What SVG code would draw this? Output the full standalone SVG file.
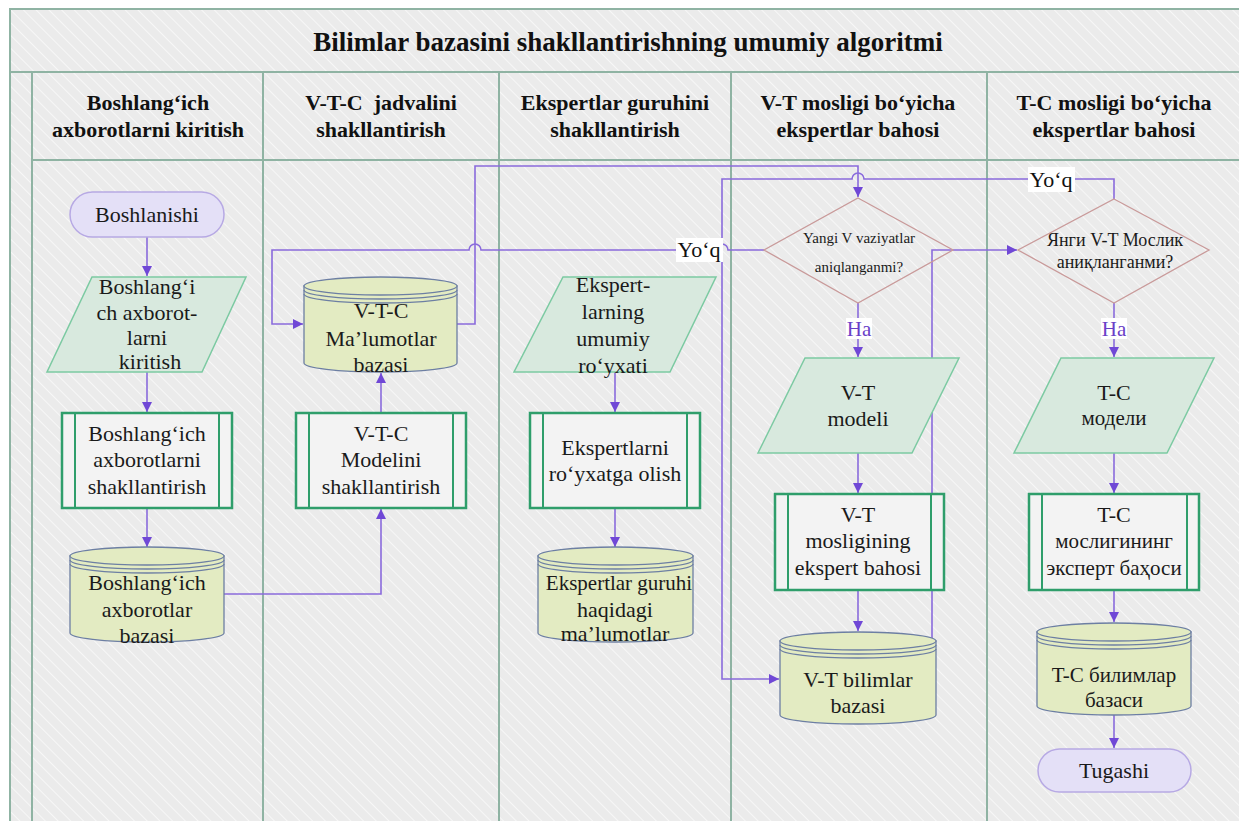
<svg xmlns="http://www.w3.org/2000/svg" width="1239" height="821" viewBox="0 0 1239 821">
  <defs>
    <pattern id="stripes" width="9" height="9" patternUnits="userSpaceOnUse" patternTransform="rotate(-45)">
      <rect width="9" height="9" fill="#ebebeb"/>
      <line x1="0" y1="0" x2="0" y2="9" stroke="#f7f7f7" stroke-width="2"/>
    </pattern>
    <marker id="arrow" markerWidth="12" markerHeight="12" refX="10" refY="6" orient="auto" markerUnits="userSpaceOnUse">
      <path d="M0,1 L10,6 L0,11 Z" fill="#7048d6"/>
    </marker>
  </defs>
  <style>
    text { font-family: 'Liberation Serif', 'Times New Roman', 'DejaVu Serif', serif; }
    .frame { fill: none; stroke: #8fb3a3; stroke-width: 2; }
    .title { font-weight: bold; font-size: 27px; fill: #111; text-anchor: middle; }
    .head { font-weight: bold; font-size: 22px; fill: #111; text-anchor: middle; }
    .txt { font-size: 22px; fill: #1a1a1a; text-anchor: middle; }
    .small { font-size: 15px; fill: #1a1a1a; text-anchor: middle; }
    .cyr { font-size: 21px; fill: #1a1a1a; text-anchor: middle; }
    .pill { fill: #e4e0f7; stroke: #b7a9e4; stroke-width: 1.5; }
    .para { fill: #d8e9de; stroke: #7ccaa2; stroke-width: 1.5; }
    .proc { fill: #f3f3f3; stroke: #2f9e6b; stroke-width: 2.5; }
    .procin { stroke: #2f9e6b; stroke-width: 2; }
    .cyl { fill: #e3ebc2; stroke: #6d7fa3; stroke-width: 1.3; }
    .ring { fill: none; stroke: #6d7fa3; stroke-width: 1.3; }
    .dia { fill: none; stroke: #c99a9a; stroke-width: 1.3; }
    .conn { fill: none; stroke: #8a6bdc; stroke-width: 1.6; }
    .lbl { font-size: 22px; fill: #111; text-anchor: middle; }
    .ha { font-size: 21px; fill: #6a3fc8; text-anchor: middle; }
  </style>

  <!-- canvas and swimlane frame -->
  <rect width="1239" height="821" fill="#ffffff"/>
  <rect x="10" y="9" width="1240" height="830" fill="url(#stripes)"/>
  <g id="frame">
    <rect class="frame" x="10" y="9" width="1240" height="830"/>
    <line class="frame" x1="10" y1="72" x2="1239" y2="72"/>
    <line class="frame" x1="32" y1="160" x2="1239" y2="160"/>
    <line class="frame" x1="32" y1="72" x2="32" y2="821"/>
    <line class="frame" x1="263" y1="72" x2="263" y2="821"/>
    <line class="frame" x1="499" y1="72" x2="499" y2="821"/>
    <line class="frame" x1="731" y1="72" x2="731" y2="821"/>
    <line class="frame" x1="987" y1="72" x2="987" y2="821"/>
  </g>

  <text class="title" x="628" y="51">Bilimlar bazasini shakllantirishning umumiy algoritmi</text>

  <g id="lane-headers">
    <text class="head" x="148" y="110">Boshlang‘ich</text>
    <text class="head" x="148" y="137">axborotlarni kiritish</text>
    <text class="head" x="381" y="110" xml:space="preserve">V-T-C  jadvalini</text>
    <text class="head" x="381" y="137">shakllantirish</text>
    <text class="head" x="615" y="110">Ekspertlar guruhini</text>
    <text class="head" x="615" y="137">shakllantirish</text>
    <text class="head" x="858" y="110">V-T mosligi bo‘yicha</text>
    <text class="head" x="858" y="137">ekspertlar bahosi</text>
    <text class="head" x="1114" y="110">T-C mosligi bo‘yicha</text>
    <text class="head" x="1114" y="137">ekspertlar bahosi</text>
  </g>

  <!-- connectors -->
  <g id="connectors">
    <path class="conn" d="M147,237 V276" marker-end="url(#arrow)"/>
    <path class="conn" d="M147,372 V412" marker-end="url(#arrow)"/>
    <path class="conn" d="M147,508 V547" marker-end="url(#arrow)"/>
    <path class="conn" d="M224,594 H381 V509" marker-end="url(#arrow)"/>
    <path class="conn" d="M381,413 V373" marker-end="url(#arrow)"/>
    <path class="conn" d="M615,372 V412" marker-end="url(#arrow)"/>
    <path class="conn" d="M615,508 V547" marker-end="url(#arrow)"/>
    <path class="conn" d="M457,324 H475 V166 H858 V197" marker-end="url(#arrow)"/>
    <path class="conn" d="M764,250 H728 A6,6 0 0 0 716,250 H481 A6,6 0 0 0 469,250 H272 V324 H303" marker-end="url(#arrow)"/>
    <path class="conn" d="M858,303 V357" marker-end="url(#arrow)"/>
    <path class="conn" d="M858,453 V493" marker-end="url(#arrow)"/>
    <path class="conn" d="M858,590 V631" marker-end="url(#arrow)"/>
    <path class="conn" d="M936,679 H932 V250 H1017" marker-end="url(#arrow)"/>
    <path class="conn" d="M1114,199 V179 H864 A6,6 0 0 0 852,179 H722 V679 H779" marker-end="url(#arrow)"/>
    <path class="conn" d="M1114,303 V357" marker-end="url(#arrow)"/>
    <path class="conn" d="M1114,453 V493" marker-end="url(#arrow)"/>
    <path class="conn" d="M1114,590 V622" marker-end="url(#arrow)"/>
    <path class="conn" d="M1114,715 V748" marker-end="url(#arrow)"/>

    <rect x="676" y="238" width="47" height="24" fill="#ffffff"/>
    <text class="lbl" x="699" y="257">Yo‘q</text>
    <rect x="1028" y="167" width="47" height="25" fill="#ffffff"/>
    <text class="lbl" x="1051" y="187">Yo‘q</text>
    <rect x="846" y="318" width="26" height="21" fill="#ffffff"/>
    <text class="ha" x="859" y="336">Ha</text>
    <rect x="1101" y="318" width="26" height="21" fill="#ffffff"/>
    <text class="ha" x="1114" y="336">Ha</text>
  </g>

  <!-- lane 1 -->
  <g id="start">
    <rect class="pill" x="70" y="192" width="154" height="45" rx="22.5"/>
    <text class="txt" x="147" y="222">Boshlanishi</text>
  </g>
  <g id="input-initial">
    <polygon class="para" points="92,277 246,277 202,372 47,372"/>
    <text class="txt" x="147" y="294">Boshlang‘i</text>
    <text class="txt" x="147" y="320">ch axborot-</text>
    <text class="txt" x="147" y="345">larni</text>
    <text class="txt" x="150" y="369">kiritish</text>
  </g>
  <g id="form-initial">
    <rect class="proc" x="62" y="413" width="170" height="95"/>
    <line class="procin" x1="75" y1="413" x2="75" y2="508"/>
    <line class="procin" x1="219" y1="413" x2="219" y2="508"/>
    <text class="txt" x="147" y="441">Boshlang‘ich</text>
    <text class="txt" x="147" y="467">axborotlarni</text>
    <text class="txt" x="147" y="494">shakllantirish</text>
  </g>
  <g id="db-initial">
    <path class="cyl" d="M70,556 V633 A77,9 0 0 0 224,633 V556 Z"/>
    <ellipse class="cyl" cx="147" cy="556" rx="77" ry="9"/>
    <path class="ring" d="M70,560 A77,9 0 0 0 224,560"/>
    <path class="ring" d="M70,564 A77,9 0 0 0 224,564"/>
    <text class="txt" x="147" y="590">Boshlang‘ich</text>
    <text class="txt" x="147" y="617">axborotlar</text>
    <text class="txt" x="147" y="643">bazasi</text>
  </g>

  <!-- lane 2 -->
  <g id="db-vtc">
    <path class="cyl" d="M304,286 V363 A76.5,9 0 0 0 457,363 V286 Z"/>
    <ellipse class="cyl" cx="380.5" cy="286" rx="76.5" ry="9"/>
    <path class="ring" d="M304,290 A76.5,9 0 0 0 457,290"/>
    <path class="ring" d="M304,294 A76.5,9 0 0 0 457,294"/>
    <text class="txt" x="381" y="318">V-T-C</text>
    <text class="txt" x="381" y="346">Ma’lumotlar</text>
    <text class="txt" x="381" y="372">bazasi</text>
  </g>
  <g id="form-vtc">
    <rect class="proc" x="296" y="413" width="170" height="95"/>
    <line class="procin" x1="309" y1="413" x2="309" y2="508"/>
    <line class="procin" x1="453" y1="413" x2="453" y2="508"/>
    <text class="txt" x="381" y="441">V-T-C</text>
    <text class="txt" x="381" y="467">Modelini</text>
    <text class="txt" x="381" y="494">shakllantirish</text>
  </g>

  <!-- lane 3 -->
  <g id="input-experts">
    <polygon class="para" points="563,277 716,277 670,372 514,372"/>
    <text class="txt" x="613" y="292">Ekspert-</text>
    <text class="txt" x="613" y="319">larning</text>
    <text class="txt" x="613" y="346">umumiy</text>
    <text class="txt" x="613" y="373">ro‘yxati</text>
  </g>
  <g id="register-experts">
    <rect class="proc" x="530" y="413" width="170" height="95"/>
    <line class="procin" x1="543" y1="413" x2="543" y2="508"/>
    <line class="procin" x1="687" y1="413" x2="687" y2="508"/>
    <text class="txt" x="615" y="455">Ekspertlarni</text>
    <text class="txt" x="615" y="481">ro‘yxatga olish</text>
  </g>
  <g id="db-experts">
    <path class="cyl" d="M538,556 V633 A77.5,9 0 0 0 693,633 V556 Z"/>
    <ellipse class="cyl" cx="615.5" cy="556" rx="77.5" ry="9"/>
    <path class="ring" d="M538,560 A77.5,9 0 0 0 693,560"/>
    <path class="ring" d="M538,564 A77.5,9 0 0 0 693,564"/>
    <text class="txt" x="619" y="590" style="font-size:21px">Ekspertlar guruhi</text>
    <text class="txt" x="615" y="617">haqidagi</text>
    <text class="txt" x="615" y="641">ma’lumotlar</text>
  </g>

  <!-- lane 4 -->
  <g id="decision-vt">
    <polygon class="dia" points="858,198 953,250 858,303 764,250"/>
    <text class="small" x="859" y="243">Yangi V vaziyatlar</text>
    <text class="small" x="859" y="272">aniqlanganmi?</text>
  </g>
  <g id="model-vt">
    <polygon class="para" points="805,358 959,358 912,453 758,453"/>
    <text class="txt" x="858" y="400">V-T</text>
    <text class="txt" x="858" y="426">modeli</text>
  </g>
  <g id="assess-vt">
    <rect class="proc" x="775" y="494" width="169" height="96"/>
    <line class="procin" x1="788" y1="494" x2="788" y2="590"/>
    <line class="procin" x1="931" y1="494" x2="931" y2="590"/>
    <text class="txt" x="858" y="522">V-T</text>
    <text class="txt" x="858" y="548">mosligining</text>
    <text class="txt" x="858" y="575">ekspert bahosi</text>
  </g>
  <g id="kb-vt">
    <path class="cyl" d="M780,641 V715 A78,9 0 0 0 936,715 V641 Z"/>
    <ellipse class="cyl" cx="858" cy="641" rx="78" ry="9"/>
    <path class="ring" d="M780,645 A78,9 0 0 0 936,645"/>
    <path class="ring" d="M780,649 A78,9 0 0 0 936,649"/>
    <text class="txt" x="858" y="687">V-T bilimlar</text>
    <text class="txt" x="858" y="713">bazasi</text>
  </g>

  <!-- lane 5 -->
  <g id="decision-tc">
    <polygon class="dia" points="1114,199 1209,250 1114,303 1018,250"/>
    <text class="cyr" x="1115" y="246" style="font-size:18px">Янги V-T Мослик</text>
    <text class="cyr" x="1115" y="268" style="font-size:18px">аниқланганми?</text>
  </g>
  <g id="model-tc">
    <polygon class="para" points="1061,358 1214,358 1167,453 1014,453"/>
    <text class="txt" x="1114" y="400">T-C</text>
    <text class="cyr" x="1114" y="425">модели</text>
  </g>
  <g id="assess-tc">
    <rect class="proc" x="1029" y="494" width="170" height="96"/>
    <line class="procin" x1="1042" y1="494" x2="1042" y2="590"/>
    <line class="procin" x1="1187" y1="494" x2="1187" y2="590"/>
    <text class="txt" x="1114" y="522">T-C</text>
    <text class="cyr" x="1114" y="548">мослигининг</text>
    <text class="cyr" x="1114" y="575">эксперт баҳоси</text>
  </g>
  <g id="kb-tc">
    <path class="cyl" d="M1037,632 V706 A77,9 0 0 0 1191,706 V632 Z"/>
    <ellipse class="cyl" cx="1114" cy="632" rx="77" ry="9"/>
    <path class="ring" d="M1037,636 A77,9 0 0 0 1191,636"/>
    <path class="ring" d="M1037,640 A77,9 0 0 0 1191,640"/>
    <text class="cyr" x="1114" y="682">T-C билимлар</text>
    <text class="cyr" x="1114" y="707">базаси</text>
  </g>
  <g id="end">
    <rect class="pill" x="1038" y="749" width="153" height="43" rx="21.5"/>
    <text class="txt" x="1114" y="778">Tugashi</text>
  </g>
</svg>
